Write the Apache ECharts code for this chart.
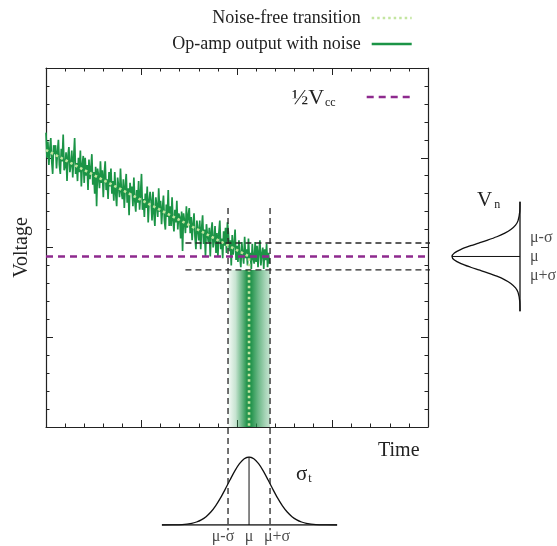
<!DOCTYPE html>
<html>
<head>
<meta charset="utf-8">
<script src="https://cdn.jsdelivr.net/npm/echarts@6/dist/echarts.min.js"></script>
<style>
  html, body { margin: 0; padding: 0; background: #ffffff; }
  #chart { width: 557px; height: 546px; }
</style>
</head>
<body>
<div id="chart"></div>
<script>
// Comparator output crossing the ½Vcc threshold with noise, and the two
// distributions it produces: voltage noise (right) and timing jitter (below).

const SERIF = '"Liberation Serif", "Times New Roman", serif';

// Axis ranges of the main Time / Voltage plot
const timeRange = [0, 20];
const voltRange = [0, 20];
const majorStep = 5;

// Noisy op-amp output, one sample every noisyStep time units
const noisyStep = 0.05;
const noisyVoltage = [
  16.4, 15.0, 15.9, 14.6, 15.5, 16.1, 14.8, 14.1, 15.7, 15.2,
  15.7, 14.4, 15.3, 16.0, 14.6, 14.1, 15.5, 14.8, 16.3, 14.3,
  14.5, 15.3, 13.7, 15.1, 15.6, 14.2, 14.6, 15.4, 13.9, 15.0,
  16.1, 14.1, 14.7, 13.7, 15.0, 14.2, 15.4, 13.4, 14.6, 15.1,
  13.6, 15.0, 14.0, 14.6, 13.2, 14.9, 13.8, 14.4, 15.2, 13.5,
  14.2, 13.0, 14.5, 12.3, 14.4, 14.0, 13.3, 14.8, 13.6, 14.3,
  12.8, 14.1, 14.8, 13.2, 13.8, 12.7, 14.2, 13.4, 14.4, 13.0,
  13.7, 12.6, 14.2, 13.0, 12.3, 13.9, 13.4, 12.8, 14.4, 13.1,
  12.7, 13.8, 12.2, 13.4, 14.1, 12.5, 13.3, 11.8, 13.6, 13.0,
  13.4, 12.3, 13.9, 12.6, 12.0, 13.2, 12.5, 13.7, 12.1, 13.0,
  14.1, 12.1, 12.7, 11.7, 13.0, 12.2, 13.4, 11.4, 12.6, 13.1,
  12.6, 11.5, 13.1, 11.9, 11.2, 12.8, 12.3, 11.7, 13.3, 12.0,
  12.6, 11.3, 12.2, 12.9, 11.5, 11.0, 12.4, 11.7, 13.2, 11.2,
  12.3, 11.2, 12.8, 11.5, 10.9, 12.1, 11.4, 12.6, 11.0, 11.9,
  11.7, 10.5, 12.0, 9.8, 11.9, 11.5, 10.8, 12.3, 11.1, 11.8,
  12.2, 10.8, 11.7, 10.4, 11.3, 11.9, 10.6, 9.9, 11.5, 11.0,
  10.4, 11.5, 9.9, 11.1, 11.8, 10.2, 11.0, 9.5, 11.3, 10.7,
  10.3, 11.1, 9.5, 10.9, 11.4, 10.0, 10.4, 11.2, 9.7, 10.8,
  9.5, 10.8, 11.5, 9.9, 10.5, 9.4, 10.9, 10.1, 11.1, 9.7,
  11.4, 10.8, 9.8, 10.4, 9.0, 10.7, 9.6, 10.2, 11.0, 9.3,
  10.1, 9.2, 10.4, 9.5, 8.9, 10.3, 9.6, 9.1, 10.6, 9.4,
  9.9, 9.0, 10.5, 9.3, 9.7, 8.8, 10.2, 9.4, 9.1, 10.3,
  9.2, 10.1, 8.9, 9.8, 10.4, 9.0, 9.6, 10.0, 8.8, 9.9,
  9.3, 10.2, 8.9, 9.7, 9.1
];

// Noise-free transition: linear ramp, then a sharp drop at the crossing
const idealTime = [0, 10.63, 10.63];
const idealVoltage = [15.43, 9.5, 0];

// Threshold level
const halfVcc = 9.5;

// Timing distribution (mean / spread along time)
const muT = 10.63;
const sigmaT = 1.1;
const timeBellX = [6.07, 6.63, 7.13, 7.63, 7.88, 8.13, 8.38, 8.63, 8.88, 9.13, 9.38, 9.63,
                   9.88, 10.13, 10.38, 10.63, 10.88, 11.13, 11.38, 11.63, 11.88, 12.13,
                   12.38, 12.63, 12.88, 13.13, 13.38, 13.63, 14.13, 14.63, 15.24];
const timeBellY = [0, 0.0013, 0.0063, 0.0243, 0.044, 0.0756, 0.123, 0.191, 0.282, 0.395, 0.524, 0.661,
                   0.793, 0.902, 0.975, 1, 0.975, 0.902, 0.793, 0.661, 0.524, 0.395,
                   0.282, 0.191, 0.123, 0.0756, 0.044, 0.0243, 0.0063, 0.0013, 0];

// Voltage-noise distribution (mean / spread along voltage)
const muV = 9.5;
const sigmaV = 0.75;
const voltBellV = [6.45, 7.0, 7.5, 7.75, 8.0, 8.2, 8.4, 8.6, 8.75, 8.9, 9.1, 9.3, 9.5,
                   9.7, 9.9, 10.1, 10.25, 10.4, 10.6, 10.8, 11.0, 11.25, 11.5, 12.0, 12.55];
const voltBellD = [0, 0.0039, 0.0286, 0.0657, 0.135, 0.223, 0.341, 0.487, 0.607, 0.726, 0.867, 0.965, 1,
                   0.965, 0.867, 0.726, 0.607, 0.487, 0.341, 0.223, 0.135, 0.0657, 0.0286, 0.0039, 0];

// Extents of the dashed ±σ guide lines
const guideTimeSpan = [12.2, -5.75];   // vertical guides, voltage units
const guideVoltSpan = [7.3, 24.8];     // horizontal guides, time units

const sigmaLabels = ['μ-σ', 'μ', 'μ+σ'];

const GREEN = '#1b9446';
const LIGHT_GREEN = '#c3e5a0';
const PURPLE = '#8e2a8e';
const INK = '#222222';

const noisyData = noisyVoltage.map((v, i) => [+(i * noisyStep).toFixed(2), v]);
const idealData = idealTime.map((t, i) => [t, idealVoltage[i]]);

const tLow = +(muT - sigmaT).toFixed(2), tHigh = +(muT + sigmaT).toFixed(2);
const vLow = +(muV - sigmaV).toFixed(2), vHigh = +(muV + sigmaV).toFixed(2);

function frameAxis(pos, isX, gridIndex) {
  return {
    type: 'value', gridIndex, position: pos,
    min: isX ? timeRange[0] : voltRange[0],
    max: isX ? timeRange[1] : voltRange[1],
    interval: majorStep,
    axisLine: { show: true, onZero: false, lineStyle: { color: INK, width: 1.2 } },
    axisTick: { show: true, inside: true, length: 7, lineStyle: { color: INK, width: 1 } },
    minorTick: { show: true, splitNumber: 5, length: 3.5, lineStyle: { color: INK, width: 1 } },
    axisLabel: { show: false },
    splitLine: { show: false },
    minorSplitLine: { show: false }
  };
}

function hiddenAxis(gridIndex, min, max, inverse) {
  return { type: 'value', gridIndex, min, max, inverse: !!inverse, show: false,
           splitLine: { show: false } };
}

const dashed = { color: '#262626', width: 1.3, type: [6, 4] };
const bellLine = { color: '#111111', width: 1.3 };
const idealStyle = { color: LIGHT_GREEN, width: 2.6, type: [2.5, 3] };
const noisyStyle = { color: GREEN, width: 1.7 };
const halfStyle = { color: PURPLE, width: 2.6, type: [7, 5] };

function guide(points) {
  return {
    type: 'line', xAxisIndex: 0, yAxisIndex: 0, data: points, symbol: 'none',
    clip: false, silent: true, z: 5, lineStyle: dashed
  };
}

// sigma labels pushed slightly apart so they stay readable
const sideLabelShift = [[0, -5], [0, 0], [0, 6]];
const baseLabelShift = [[-5, 0], [0, 0], [7, 0]];

const chart = echarts.init(document.getElementById('chart'), null, { renderer: 'canvas' });

chart.setOption({
  animation: false,
  backgroundColor: '#ffffff',
  grid: [
    { left: 46, top: 68, width: 382, height: 359 },   // main plot
    { left: 452, top: 68, width: 68, height: 359 },   // voltage noise bell
    { left: 46, top: 457, width: 382, height: 68 }    // timing bell
  ],
  xAxis: [
    frameAxis('bottom', true, 0),
    frameAxis('top', true, 0),
    hiddenAxis(1, 0, 1, true),
    hiddenAxis(2, timeRange[0], timeRange[1])
  ],
  yAxis: [
    Object.assign(frameAxis('left', false, 0), {
      name: 'Voltage', nameLocation: 'middle', nameGap: 14, nameRotate: 90,
      nameTextStyle: { fontFamily: SERIF, fontSize: 20, color: INK }
    }),
    frameAxis('right', false, 0),
    hiddenAxis(1, voltRange[0], voltRange[1]),
    hiddenAxis(2, 0, 1)
  ],
  legend: [
    {
      data: [
        { name: 'Noise-free transition', lineStyle: Object.assign({}, idealStyle, { width: 2.6 }) },
        { name: 'Op-amp output with noise', lineStyle: Object.assign({}, noisyStyle, { width: 2.6 }) }
      ],
      orient: 'vertical', right: 139, top: 4, align: 'right',
      itemWidth: 40, itemHeight: 12, itemGap: 8,
      itemStyle: { opacity: 0 },
      textStyle: { fontFamily: SERIF, fontSize: 18, color: INK, padding: [0, 6, 0, 0] }
    },
    {
      data: [{ name: '½Vcc', lineStyle: halfStyle }],
      right: 139, top: 82, align: 'right',
      itemWidth: 45, itemHeight: 12,
      itemStyle: { opacity: 0 },
      formatter: () => '{a|½V}{b|cc}',
      textStyle: {
        fontFamily: SERIF, color: INK, padding: [0, 26, 0, 0],
        rich: {
          a: { fontFamily: SERIF, fontSize: 22, color: INK, verticalAlign: 'bottom' },
          b: { fontFamily: SERIF, fontSize: 12, color: INK, verticalAlign: 'bottom', padding: [12, 0, 0, 1] }
        }
      }
    }
  ],
  series: [
    {
      name: 'Op-amp output with noise', type: 'line', xAxisIndex: 0, yAxisIndex: 0,
      data: noisyData, symbol: 'none', z: 3,
      lineStyle: noisyStyle, itemStyle: { color: GREEN },
      markArea: {
        silent: true,
        itemStyle: {
          color: {
            type: 'linear', x: 0, y: 0, x2: 1, y2: 0,
            colorStops: [
              { offset: 0.0, color: 'rgba(29,145,71,0.04)' },
              { offset: 0.18, color: 'rgba(29,145,71,0.25)' },
              { offset: 0.35, color: 'rgba(29,145,71,0.7)' },
              { offset: 0.45, color: 'rgba(29,145,71,0.97)' },
              { offset: 0.55, color: 'rgba(29,145,71,0.97)' },
              { offset: 0.72, color: 'rgba(29,145,71,0.65)' },
              { offset: 0.88, color: 'rgba(29,145,71,0.4)' },
              { offset: 1.0, color: 'rgba(29,145,71,0.25)' }
            ]
          }
        },
        data: [[{ xAxis: tLow, yAxis: voltRange[0] }, { xAxis: tHigh, yAxis: vLow }]]
      }
    },
    {
      name: 'Noise-free transition', type: 'line', xAxisIndex: 0, yAxisIndex: 0,
      data: idealData, symbol: 'none', z: 4,
      lineStyle: idealStyle, itemStyle: { color: LIGHT_GREEN }
    },
    {
      name: '½Vcc', type: 'line', xAxisIndex: 0, yAxisIndex: 0,
      data: [[timeRange[0], halfVcc], [timeRange[1], halfVcc]], symbol: 'none', z: 6,
      lineStyle: halfStyle, itemStyle: { color: PURPLE }
    },
    // ±σ guides in time
    guide([[tLow, guideTimeSpan[0]], [tLow, guideTimeSpan[1]]]),
    guide([[tHigh, guideTimeSpan[0]], [tHigh, guideTimeSpan[1]]]),
    // ±σ guides in voltage
    guide([[guideVoltSpan[0], vHigh], [guideVoltSpan[1], vHigh]]),
    guide([[guideVoltSpan[0], vLow], [guideVoltSpan[1], vLow]]),
    // Voltage noise distribution
    {
      type: 'line', xAxisIndex: 2, yAxisIndex: 2, symbol: 'none', silent: true,
      data: voltBellV.map((v, i) => [voltBellD[i], v]),
      smooth: 0.3, lineStyle: bellLine
    },
    {
      type: 'line', xAxisIndex: 2, yAxisIndex: 2, symbol: 'none', silent: true,
      data: [[0, voltBellV[0]], [0, voltBellV[voltBellV.length - 1]]],
      lineStyle: bellLine
    },
    {
      type: 'line', xAxisIndex: 2, yAxisIndex: 2, symbol: 'none', silent: true,
      data: [[0, muV], [1, muV]],
      lineStyle: { color: '#111', width: 1 }
    },
    {
      type: 'scatter', xAxisIndex: 2, yAxisIndex: 2, symbolSize: 0, silent: true,
      data: [vHigh, muV, vLow].map((v, i) => ({
        value: [0, v, sigmaLabels[i]], label: { offset: sideLabelShift[i] }
      })),
      label: {
        show: true, position: 'right', distance: 10,
        formatter: p => p.value[2],
        fontFamily: SERIF, fontSize: 16, color: INK
      }
    },
    // Timing distribution
    {
      type: 'line', xAxisIndex: 3, yAxisIndex: 3, symbol: 'none', silent: true,
      data: timeBellX.map((t, i) => [t, timeBellY[i]]),
      smooth: 0.3, lineStyle: bellLine
    },
    {
      type: 'line', xAxisIndex: 3, yAxisIndex: 3, symbol: 'none', silent: true,
      data: [[timeBellX[0], 0], [timeBellX[timeBellX.length - 1], 0]],
      lineStyle: bellLine
    },
    {
      type: 'line', xAxisIndex: 3, yAxisIndex: 3, symbol: 'none', silent: true,
      data: [[muT, 0], [muT, 1]],
      lineStyle: { color: '#111', width: 1 }
    },
    {
      type: 'scatter', xAxisIndex: 3, yAxisIndex: 3, symbolSize: 0, silent: true,
      data: [tLow, muT, tHigh].map((t, i) => ({
        value: [t, 0, sigmaLabels[i]], label: { offset: baseLabelShift[i] }
      })),
      label: {
        show: true, position: 'bottom', distance: 4,
        formatter: p => p.value[2],
        fontFamily: SERIF, fontSize: 16, color: INK
      }
    }
  ],
  graphic: [
    {
      type: 'text', left: 378, top: 441,
      style: { text: 'Time', fontFamily: SERIF, fontSize: 20, fill: INK }
    },
    {
      type: 'text', left: 477, top: 190,
      style: {
        text: '{a|V}{b|n}',
        rich: {
          a: { fontFamily: SERIF, fontSize: 21, fill: INK, verticalAlign: 'bottom' },
          b: { fontFamily: SERIF, fontSize: 12, fill: INK, verticalAlign: 'bottom', padding: [14, 0, 0, 2] }
        }
      }
    },
    {
      type: 'text', left: 296, top: 464,
      style: {
        text: '{a|σ}{b|t}',
        rich: {
          a: { fontFamily: SERIF, fontSize: 21, fill: INK, verticalAlign: 'bottom' },
          b: { fontFamily: SERIF, fontSize: 12, fill: INK, verticalAlign: 'bottom', padding: [14, 0, 0, 1] }
        }
      }
    }
  ]
});
</script>
</body>
</html>
